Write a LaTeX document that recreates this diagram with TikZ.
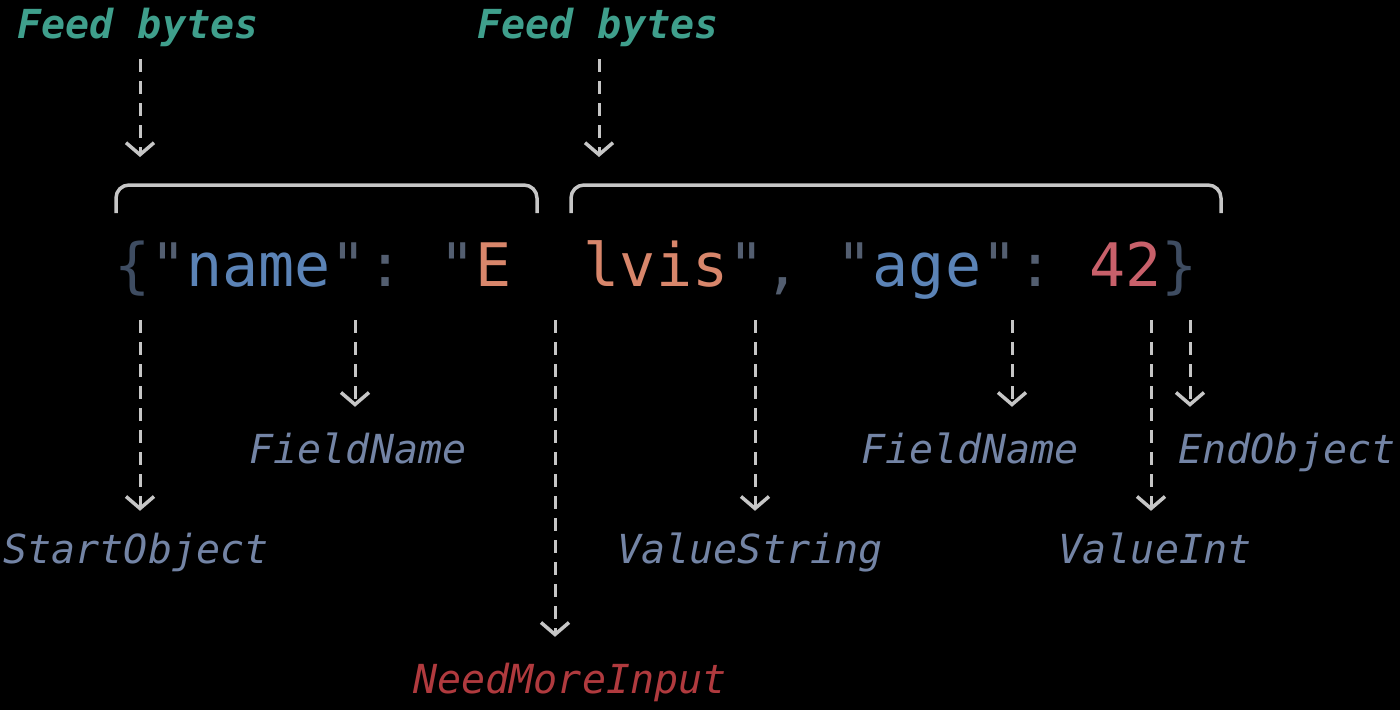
\documentclass[tikz,border=0pt]{standalone}
\usepackage{fontspec}
\setmainfont{DejaVu Sans Mono}
\newfontfamily\codefont{DejaVu Sans Mono}
\usetikzlibrary{arrows.meta}
\definecolor{feedc}{HTML}{3F9F8C}
\definecolor{lblc}{HTML}{7384A5}
\definecolor{errc}{HTML}{B03A3E}
\definecolor{linec}{HTML}{C6C6C6}
\definecolor{bracec}{HTML}{3E4C61}
\definecolor{punctc}{HTML}{535E70}
\definecolor{keyc}{HTML}{5B83B6}
\definecolor{strc}{HTML}{D8866B}
\definecolor{numc}{HTML}{C8606A}
\tikzset{
  lbl/.style={font=\fontsize{40}{48}\selectfont\itshape, text=lblc, inner sep=0pt, text height=30pt, text depth=9pt, anchor=base},
  feedlbl/.style={lbl, font=\fontsize{40}{48}\selectfont\bfseries\itshape, text=feedc},
  errlbl/.style={lbl, text=errc},
  evt/.style={draw=linec, line width=3pt, dash pattern=on 13pt off 9pt, -{Straight Barb[length=12pt,width=28pt,line width=3.5pt]}},
  chunk/.style={draw=linec, line width=3.5pt, rounded corners=13pt},
  code/.style={font=\codefont\fontsize{60}{72}\selectfont, inner sep=0pt, anchor=base west}
}
\begin{document}
\begin{tikzpicture}[x=1pt,y=-1pt]
\fill[black] (0,0) rectangle (1400,710);
\useasboundingbox (0,0) rectangle (1400,710);

% feed labels
\node[feedlbl] (feed1) at (138,38) {Feed bytes};
\node[feedlbl] (feed2) at (598,38) {Feed bytes};
\coordinate (ftip1) at (140,157);
\coordinate (ftip2) at (599,157);
\draw[evt, shorten <=12pt] (feed1.south -| ftip1) -- (ftip1);
\draw[evt, shorten <=12pt] (feed2.south -| ftip2) -- (ftip2);

% chunk brackets
\draw[chunk] (116,213) -- (116,185) -- (537,185) -- (537,213);
\draw[chunk] (571,213) -- (571,185) -- (1221,185) -- (1221,213);

% code line
\node[code] (json) at (114,286) {\frenchspacing%
{\color{bracec}\{}{\color{punctc}"}{\color{keyc}name}{\color{punctc}":\ "}{\color{strc}E\ \ lvis}{\color{punctc}",\ "}{\color{keyc}age}{\color{punctc}":\ }{\color{numc}42}{\color{bracec}\}}};

% event labels
\node[lbl] (start) at (136,563) {StartObject};
\node[lbl] (fn1) at (358,463) {FieldName};
\node[errlbl] (need) at (570,693) {NeedMoreInput};
\node[lbl] (vstr) at (750,563) {ValueString};
\node[lbl] (fn2) at (970,463) {FieldName};
\node[lbl] (vint) at (1155,563) {ValueInt};
\node[lbl] (endo) at (1287,463) {EndObject};

% arrow origins
\coordinate (s1) at (140,320);
\coordinate (s2) at (355,320);
\coordinate (s3) at (555,320);
\coordinate (s4) at (755,320);
\coordinate (s5) at (1012,320);
\coordinate (s6) at (1151,320);
\coordinate (s7) at (1190,320);

\draw[evt, shorten >=22pt] (s1) -- (s1 |- start.north);
\draw[evt, shorten >=26pt] (s2) -- (s2 |- fn1.north);
\draw[evt, shorten >=26pt] (s3) -- (s3 |- need.north);
\draw[evt, shorten >=22pt] (s4) -- (s4 |- vstr.north);
\draw[evt, shorten >=26pt] (s5) -- (s5 |- fn2.north);
\draw[evt, shorten >=22pt] (s6) -- (s6 |- vint.north);
\draw[evt, shorten >=26pt] (s7) -- (s7 |- endo.north);
\end{tikzpicture}
\end{document}
